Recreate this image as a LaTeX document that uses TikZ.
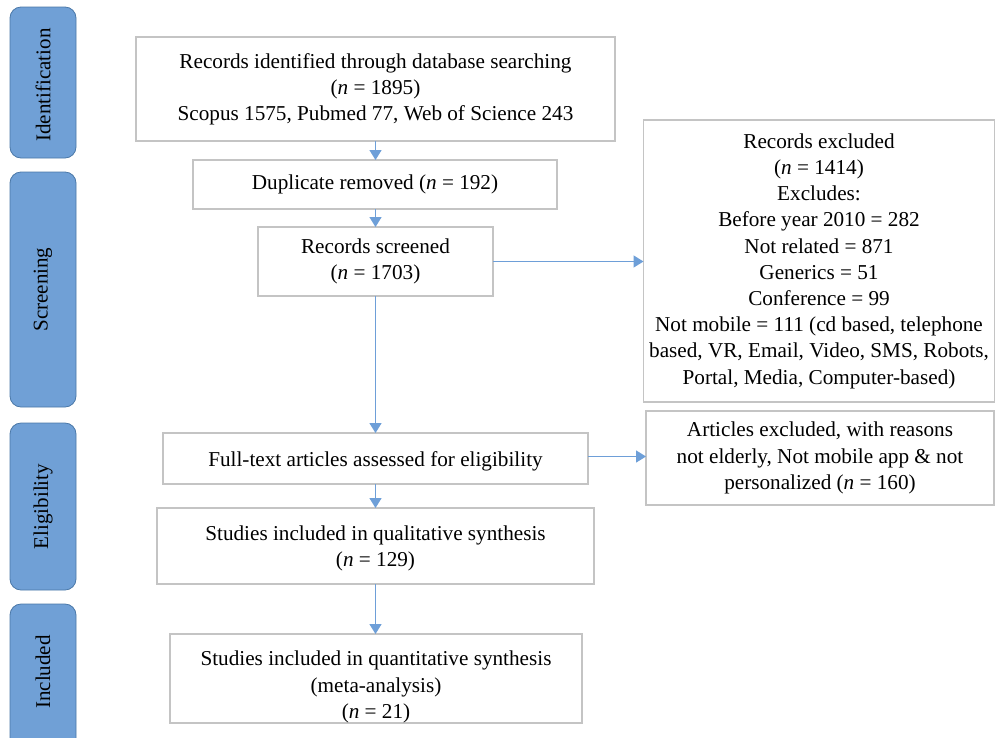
\documentclass[tikz,border=0pt]{standalone}
\usepackage{fontspec}
\setmainfont{Liberation Serif}
\usetikzlibrary{arrows.meta}
\definecolor{barfill}{HTML}{70A0D6}
\definecolor{barline}{HTML}{4A78A8}
\definecolor{arrowc}{HTML}{6E9FD8}
\definecolor{boxline}{HTML}{C4C4C4}
\newcommand{\nn}{\textit{n}}
\begin{document}
\begin{tikzpicture}[x=1pt,y=-1pt,
  every node/.style={font=\fontsize{21.2}{26.2}\selectfont, inner sep=0pt, outer sep=0pt},
  flowbox/.style={draw=boxline, line width=1.4pt, fill=white, align=center},
  flowtext/.style={align=center},
  stagebar/.style={draw=barline, line width=0.8pt, fill=barfill, rounded corners=11pt},
  stagelabel/.style={rotate=90, font=\fontsize{21}{24}\selectfont},
  flowarrow/.style={draw=arrowc, line width=1.4pt, -{Triangle[width=12pt,length=10pt]}}]
\useasboundingbox (0,0) rectangle (995,737);
\fill[white] (0,0) rectangle (995,737);

% stage bars
\draw[stagebar] (10,7) rectangle (76,158);
\node[stagelabel] (lid) at (43,85) {Identification};
\draw[stagebar] (10,172) rectangle (76,407);
\node[stagelabel] (lsc) at (43,289.5) {Screening};
\draw[stagebar] (10,423) rectangle (76,590);
\node[stagelabel] (lel) at (43,506.5) {Eligibility};
\draw[stagebar] (10,604) rectangle (76,750);
\node[stagelabel] (lin) at (43,672) {Included};

% boxes
\node[flowbox, minimum width=479pt, minimum height=104pt] (b1) at (375.5,89)
  {Records identified through database searching\\(\nn{} = 1895)\\Scopus 1575, Pubmed 77, Web of Science 243};
\node[flowbox, minimum width=364pt, minimum height=49pt] (b2) at (375,184.5)
  {Duplicate removed (\nn{} = 192)};
\node[flowbox, minimum width=235pt, minimum height=69pt] (b3) at (375.5,261.5)
  {Records screened\\(\nn{} = 1703)};
\node[flowbox, minimum width=351pt, minimum height=282pt] (b4) at (819,261)
  {Records excluded\\(\nn{} = 1414)\\Excludes:\\Before year 2010 = 282\\Not related = 871\\Generics = 51\\Conference = 99\\Not mobile = 111 (cd based, telephone\\based, VR, Email, Video, SMS, Robots,\\Portal, Media, Computer-based)};
\node[flowbox, minimum width=425pt, minimum height=51pt] (b5) at (375.5,458.5) {};
\node[flowtext] (b5t) at (375.5,461) {Full-text articles assessed for eligibility};
\node[flowbox, minimum width=348pt, minimum height=94pt] (b6) at (820,458)
  {Articles excluded, with reasons\\not elderly, Not mobile app \& not\\personalized (\nn{} = 160)};
\node[flowbox, minimum width=437pt, minimum height=76pt] (b7) at (375.5,546) {};
\node[flowtext] (b7t) at (375.5,548) {Studies included in qualitative synthesis\\(\nn{} = 129)};
\node[flowbox, minimum width=412pt, minimum height=89pt] (b8) at (376,678.5) {};
\node[flowtext] (b8t) at (376,687) {Studies included in quantitative synthesis\\(meta-analysis)\\(\nn{} = 21)};

% arrows
\draw[flowarrow] (b1.south) -- (b1.south |- b2.north);
\draw[flowarrow] (b1.south |- b2.south) -- (b1.south |- b3.north);
\draw[flowarrow] (b1.south |- b3.south) -- (b1.south |- b5.north);
\draw[flowarrow] (b1.south |- b5.south) -- (b1.south |- b7.north);
\draw[flowarrow] (b1.south |- b7.south) -- (b1.south |- b8.north);
\draw[flowarrow] (b3.east) -- (b3.east -| b4.west);
\draw[flowarrow] ([yshift=2pt]b5.east) -- ([yshift=2pt]b5.east -| b6.west);
\end{tikzpicture}
\end{document}
